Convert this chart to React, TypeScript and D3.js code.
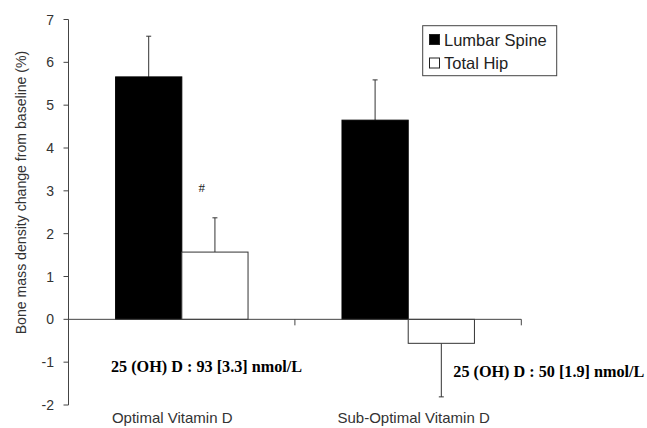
import * as d3 from 'd3';

const categories = ['Optimal Vitamin D', 'Sub-Optimal Vitamin D'];
const seriesNames = ['Lumbar Spine', 'Total Hip'];
const lumbarSpine = [5.66, 4.65];
const totalHip = [1.57, -0.56];
const lumbarSpineErr = [0.95, 0.94];
const totalHipErr = [0.8, 1.25];
const yTicks = [-2, -1, 0, 1, 2, 3, 4, 5, 6, 7];
const serumLabels = ['25 (OH) D : 93 [3.3] nmol/L', '25 (OH) D : 50 [1.9] nmol/L'];

const W = 647;
const H = 428;
const sans = 'Liberation Sans, Arial, sans-serif';
const serif = 'Liberation Serif, Times New Roman, serif';

export default function App() {
  const y = d3.scaleLinear().domain([-2, 7]).range([405, 19.5]);
  const x0 = d3.scaleBand().domain(categories).range([68.5, 521.3]).padding(0);
  const bw = x0.bandwidth();
  const x1 = d3.scaleBand().domain(seriesNames).range([bw * 0.208, bw * 0.793]).padding(0);

  const values = [lumbarSpine, totalHip];
  const errs = [lumbarSpineErr, totalHipErr];
  const fills = ['#000', '#fff'];
  const axisCol = '#444';
  // label nudges relative to category centre (as in the original layout)
  const labelShift = [-9.5, 5.5];

  const bars = [];
  seriesNames.forEach((s, si) => {
    categories.forEach((c, ci) => {
      const v = values[si][ci];
      const e = errs[si][ci];
      const bx = x0(c)! + x1(s)!;
      const top = y(Math.max(0, v));
      const h = Math.abs(y(v) - y(0));
      const cx = bx + x1.bandwidth() / 2;
      const end = v >= 0 ? y(v + e) : y(v - e);
      bars.push(
        <g key={s + c}>
          <line x1={cx} x2={cx} y1={y(v)} y2={end} stroke="#333" strokeWidth={1} />
          <line x1={cx - 2.5} x2={cx + 2.5} y1={end} y2={end} stroke="#333" strokeWidth={1} />
          <rect x={bx} y={top} width={x1.bandwidth()} height={h} fill={fills[si]} stroke={si === 0 ? '#000' : '#333'} strokeWidth={1} />
        </g>
      );
    });
  });

  return (
    <svg width={W} height={H} style={{ position: 'absolute', left: 0, top: 0, background: '#fff' }}>
      {/* y axis */}
      <line x1={68.5} x2={68.5} y1={y(7)} y2={y(-2)} stroke={axisCol} />
      {yTicks.map(t => (
        <g key={t}>
          <line x1={63.5} x2={68.5} y1={y(t)} y2={y(t)} stroke={axisCol} />
          <text x={54} y={y(t) + 5} textAnchor="end" fontFamily={sans} fontSize={14} fill="#333">{t}</text>
        </g>
      ))}
      <text transform={`translate(25.5,${(33 + 352) / 2}) rotate(-90)`} textAnchor="middle" fontFamily={sans} fontSize={14.1} fill="#333">
        Bone mass density change from baseline (%)
      </text>

      {bars}

      {/* zero line with category ticks */}
      <line x1={68.5} x2={521.3} y1={y(0)} y2={y(0)} stroke={axisCol} />
      {[...categories.map(c => x0(c)!), 521.3].slice(1).map((tx, i) => (
        <line key={i} x1={tx} x2={tx} y1={y(0)} y2={y(0) + 6} stroke={axisCol} />
      ))}

      {categories.map((c, i) => (
        <text key={c} x={x0(c)! + bw / 2 + labelShift[i]} y={423} textAnchor="middle" fontFamily={sans} fontSize={15} fill="#333">{c}</text>
      ))}

      <text x={201.7} y={192} textAnchor="middle" fontFamily={serif} fontSize={13} fill="#222">#</text>

      <text x={111} y={371.7} fontFamily={serif} fontWeight="bold" fontSize={16.2} fill="#000">{serumLabels[0]}</text>
      <text x={453.3} y={376.7} fontFamily={serif} fontWeight="bold" fontSize={16.2} fill="#000">{serumLabels[1]}</text>

      {/* legend */}
      <rect x={422.7} y={25.7} width={134} height={50} fill="#fff" stroke={axisCol} />
      {seriesNames.map((s, i) => (
        <g key={s}>
          <rect x={429.5} y={34.5 + i * 23.5} width={10} height={10} fill={fills[i]} stroke="#222" />
          <text x={444} y={45.5 + i * 23.5} fontFamily={sans} fontSize={16.5} fill="#222">{s}</text>
        </g>
      ))}
    </svg>
  );
}
